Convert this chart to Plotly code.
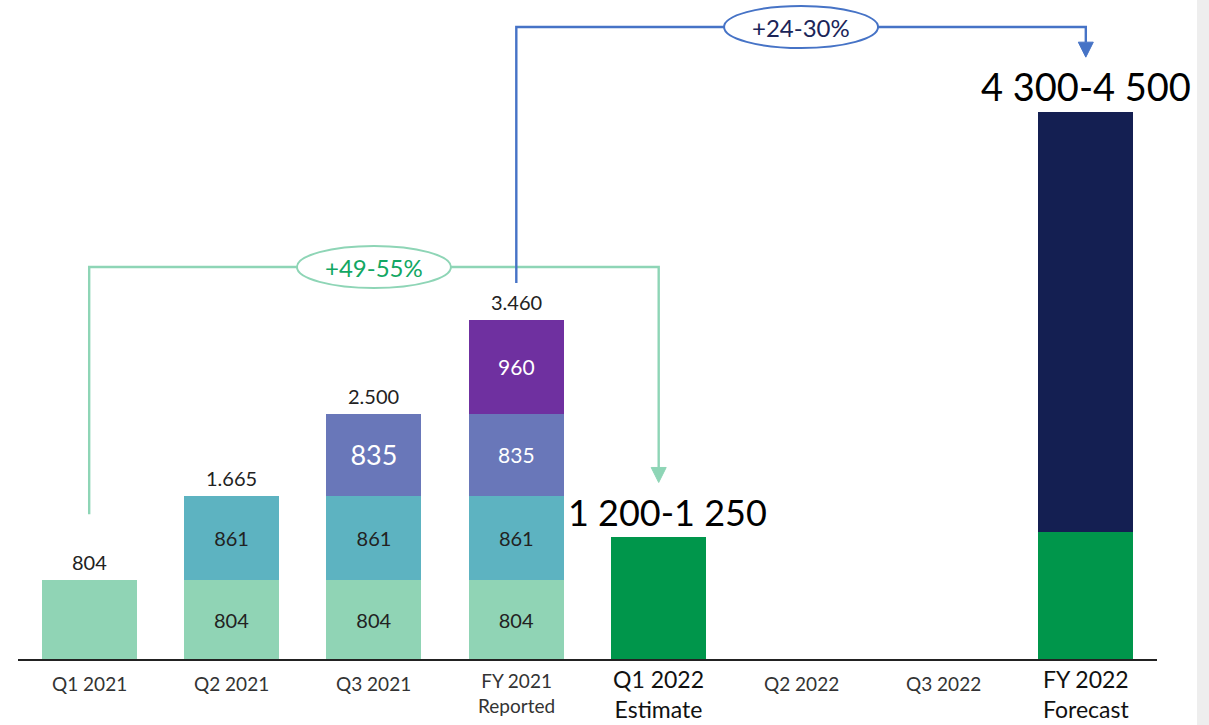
import plotly.graph_objects as go

# ---------------- data ----------------
categories = ["Q1 2021", "Q2 2021", "Q3 2021", "FY 2021<br>Reported",
              "Q1 2022<br>Estimate", "Q2 2022", "Q3 2022", "FY 2022<br>Forecast"]
big_label = [False, False, False, False, True, False, False, True]

q1_2021_vals = [804, 804, 804, 804]          # x = 0..3
q1_2021_x = [0, 1, 2, 3]
q2_2021_vals = [861, 861, 861]               # x = 1..3
q2_2021_x = [1, 2, 3]
q3_2021_vals = [835, 835]                    # x = 2..3
q3_2021_x = [2, 3]
q4_2021_vals = [960]                         # x = 3
q4_2021_x = [3]
est_2022_vals = [1240, 1295]                 # Q1 2022 estimate, FY 2022 first part
est_2022_x = [4, 7]
fc_2022_vals = [4285]                        # FY 2022 remainder
fc_2022_x = [7]

range_labels = ["1 200-1 250", "4 300-4 500"]
growth_labels = ["+49-55%", "+24-30%"]

# ---------------- geometry ----------------
W, H = 1209, 725
BASE = 659
LEFT, RIGHT = 18, 1157
ML, MR, MT, MB = LEFT, W - RIGHT, 0, H - BASE
PLOT_H = H - MT - MB
PLOT_W = W - ML - MR
PX_PER_UNIT = 0.098
YMAX = PLOT_H / PX_PER_UNIT
PX_Y = 1 / PX_PER_UNIT       # data units per pixel (y)
PX_X = 8.0 / PLOT_W          # data units per pixel (x)
BAR_W = 0.667

def y_at(page_y):
    return (BASE - page_y) * PX_Y

C_LGREEN = "#90d4b5"
C_TEAL = "#5db3c1"
C_PERI = "#6977b9"
C_PURPLE = "#6f30a0"
C_GREEN = "#00964b"
C_NAVY = "#141f52"
C_LINE_G = "#8ed5b6"
C_TEXT_G = "#12a763"
C_LINE_B = "#4673c6"
C_TEXT_B = "#1b2559"

FONT = "Lato"

fig = go.Figure()

def seg(x, y, color, text, sizes, tcolor):
    fig.add_trace(go.Bar(
        x=x, y=y, width=BAR_W, marker=dict(color=color, line=dict(width=0)),
        text=text, textposition="inside", insidetextanchor="middle",
        textfont=dict(family=FONT, size=sizes, color=tcolor),
        constraintext="none", hoverinfo="skip", showlegend=False))

seg(q1_2021_x, q1_2021_vals, C_LGREEN,
    [""] + [str(v) for v in q1_2021_vals[1:]], 20, "#222222")
seg(q2_2021_x, q2_2021_vals, C_TEAL, [str(v) for v in q2_2021_vals], 20, "#222222")
seg(q3_2021_x, q3_2021_vals, C_PERI, [str(v) for v in q3_2021_vals], [27, 21], "#ffffff")
seg(q4_2021_x, q4_2021_vals, C_PURPLE, [str(v) for v in q4_2021_vals], 21, "#ffffff")

fig.add_trace(go.Bar(x=est_2022_x, y=est_2022_vals, width=BAR_W,
                     marker=dict(color=C_GREEN, line=dict(width=0)),
                     hoverinfo="skip", showlegend=False))
fig.add_trace(go.Bar(x=fc_2022_x, y=fc_2022_vals, width=BAR_W,
                     marker=dict(color=C_NAVY, line=dict(width=0)),
                     hoverinfo="skip", showlegend=False))

annotations = []

# totals above 2021 bars
totals = {}
for xs, vs in [(q1_2021_x, q1_2021_vals), (q2_2021_x, q2_2021_vals),
               (q3_2021_x, q3_2021_vals), (q4_2021_x, q4_2021_vals)]:
    for x, v in zip(xs, vs):
        totals[x] = totals.get(x, 0) + v
for x, t in sorted(totals.items()):
    annotations.append(dict(x=x, y=t, xref="x", yref="y", yanchor="bottom",
                            text=f"{t:,}".replace(",", "."), showarrow=False,
                            yshift=4, font=dict(family=FONT, size=20, color="#222222")))

# range labels above 2022 bars
tot22 = {}
for xs, vs in [(est_2022_x, est_2022_vals), (fc_2022_x, fc_2022_vals)]:
    for x, v in zip(xs, vs):
        tot22[x] = tot22.get(x, 0) + v
for (x, t), lab, xs, fs in zip(sorted(tot22.items()), range_labels, [9, 0], [36, 38]):
    annotations.append(dict(x=x, y=t, xref="x", yref="y", yanchor="bottom",
                            text=lab, showarrow=False, yshift=1, xshift=xs,
                            font=dict(family=FONT, size=fs, color="#000000")))

# category labels
for i, (c, big) in enumerate(zip(categories, big_label)):
    two = "<br>" in c
    if big:
        size, col, sh = 23, "#111111", (-35 if two else -25)
    else:
        size, col, sh = 19, "#333333", (-34 if two else -24)
    annotations.append(dict(x=i, y=0, xref="x", yref="y", yanchor="middle",
                            text=c, showarrow=False, yshift=sh,
                            font=dict(family=FONT, size=size, color=col)))

shapes = []

def connector(x_from, y_from, y_top, x_to, y_tip, color, ell_x, label, tcolor):
    head_h = 15 * PX_Y
    head_w = 15 * PX_X
    path = f"M {x_from},{y_from} L {x_from},{y_top} L {x_to},{y_top} L {x_to},{y_tip + head_h}"
    shapes.append(dict(type="path", path=path, xref="x", yref="y",
                       line=dict(color=color, width=2.4), layer="above"))
    tri = (f"M {x_to - head_w/2},{y_tip + head_h} L {x_to + head_w/2},{y_tip + head_h} "
           f"L {x_to},{y_tip} Z")
    shapes.append(dict(type="path", path=tri, xref="x", yref="y",
                       fillcolor=color, line=dict(color=color, width=1), layer="above"))
    ew = 154 * PX_X
    eh = 42 * PX_Y
    shapes.append(dict(type="circle", xref="x", yref="y",
                       x0=ell_x - ew/2, x1=ell_x + ew/2,
                       y0=y_top - eh/2, y1=y_top + eh/2,
                       fillcolor="white", line=dict(color=color, width=2), layer="above"))
    annotations.append(dict(x=ell_x, y=y_top, xref="x", yref="y", text=label,
                            showarrow=False, font=dict(family=FONT, size=24, color=tcolor)))

# green: from Q1 2021 to Q1 2022
connector(0, totals[0] + 66 * PX_Y, y_at(267), 4, tot22[4] + 55 * PX_Y,
          C_LINE_G, 2, growth_labels[0], C_TEXT_G)
# blue: from FY 2021 to FY 2022
connector(3, totals[3] + 37 * PX_Y, y_at(27), 7, tot22[7] + 55 * PX_Y,
          C_LINE_B, 5, growth_labels[1], C_TEXT_B)

# light gray strip at right edge of the page
shapes.append(dict(type="rect", xref="paper", yref="paper",
                   x0=(1197 - ML) / PLOT_W, x1=(W - ML) / PLOT_W + 0.02,
                   y0=-0.2, y1=1.2, fillcolor="#eeeeee", line=dict(width=0), layer="above"))

fig.update_layout(
    width=W, height=H, barmode="stack",
    margin=dict(l=ML, r=MR, t=MT, b=MB, pad=0),
    paper_bgcolor="white", plot_bgcolor="white",
    xaxis=dict(range=[-0.5, 7.5], showgrid=False, zeroline=False,
               showticklabels=False, ticks="", showline=True,
               linecolor="#222222", linewidth=2, fixedrange=True),
    yaxis=dict(range=[0, YMAX], showgrid=False, zeroline=False,
               showticklabels=False, ticks="", showline=False, fixedrange=True),
    annotations=annotations, shapes=shapes,
    font=dict(family=FONT),
)

fig.write_html(
    "out.html",
    config={"displayModeBar": False},
    post_script="document.body.style.margin='0';document.body.style.overflow='hidden';",
)
